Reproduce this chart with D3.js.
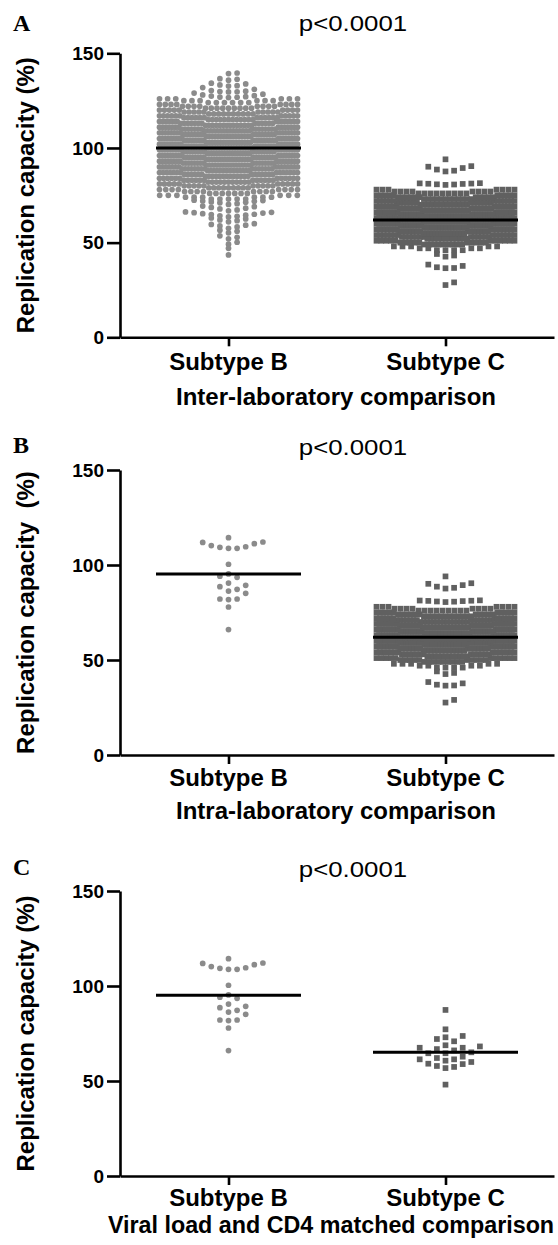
<!DOCTYPE html>
<html><head><meta charset="utf-8">
<script src="https://cdn.jsdelivr.net/npm/d3@7"></script>
<style>body{margin:0;background:#fff}svg{display:block}</style>
</head><body><svg id="c" width="558" height="1245"></svg>
<script>
// ---------------- DATA ----------------
const categories = ["Subtype B", "Subtype C"];
const yTickValues = [0, 50, 100, 150];
const panelLetters = ["A", "B", "C"];
const pValueLabels = ["p<0.0001", "p<0.0001", "p<0.0001"];
const xAxisTitles = ["Inter-laboratory comparison", "Intra-laboratory comparison", "Viral load and CD4 matched comparison"];
const yAxisTitles = ["Replication capacity (%)", "Replication capacity  (%)", "Replication capacity (%)"];

// Panel A, Subtype B (inter-laboratory): sparse tails + dense histogram (level, count)
const interB_upperTail = [139.3, 139.6, 135.8, 136.3, 136.6, 132.7, 132.9, 133.3, 133.8, 134.2,
  129.6, 129.7, 129.8, 130.0, 130.3, 131.0, 131.9, 126.6, 126.8, 126.9, 127.1, 127.4, 127.6, 128.0, 128.4, 129.0];
const interB_levels = [73, 74, 75, 76, 77, 78, 79, 80, 81, 82, 83, 84, 85, 86, 87, 88, 89, 90, 91, 92, 93, 94, 95, 96, 97, 98, 99,
  100, 101, 102, 103, 104, 105, 106, 107, 108, 109, 110, 111, 112, 113, 114, 115, 116, 117, 118, 119, 120, 121, 122, 123,
  124, 125, 126];
const interB_counts = [5, 6, 6, 7, 8, 8, 9, 10, 10, 11, 12, 12, 13, 13, 14, 14, 15, 15, 16, 16, 16, 17, 17, 17, 17, 18, 18,
  18, 18, 17, 17, 17, 17, 16, 16, 16, 15, 15, 14, 14, 13, 13, 12, 12, 11, 10, 10, 9, 9, 8, 8,
  6, 6, 6];
const interB_lowerTail = [72.4, 72.2, 72.0, 71.8, 71.5, 71.3, 71.0, 70.6, 70.2, 69.3, 69.0, 68.6, 68.2, 67.8, 67.3, 66.8,
  66.2, 66.0, 65.8, 65.6, 65.3, 65.0, 64.8, 64.5, 64.2, 63.9, 63.6, 63.0, 62.5, 62.0, 61.6, 61.0, 60.0, 59.6, 59.2,
  58.8, 58.3, 57.6, 56.6, 56.0, 55.2, 53.6, 52.8, 52.0, 50.2, 49.2, 47.0, 43.5];

// Panels A and B, Subtype C: sparse tails + dense histogram
const subC_upperTail = [94.0, 90.4, 90.1, 89.4, 88.6, 88.0, 87.6,
  80.5, 80.7, 80.8, 81.0, 81.1, 81.2, 81.3, 81.4];
const subC_levels = [46, 47, 48, 49, 50, 51, 52, 53, 54, 55, 56, 57, 58, 59, 60, 61, 62, 63, 64, 65, 66, 67, 68, 69, 70,
  71, 72, 73, 74, 75, 76, 77, 78];
const subC_counts = [4, 4, 5, 9, 10, 11, 12, 13, 14, 15, 16, 17, 17, 18, 18, 18, 18, 18, 18, 18, 17, 17, 16, 16, 15,
  14, 13, 12, 11, 10, 9, 8, 7];
const subC_lowerTail = [44.0, 43.2, 42.6, 38.4, 37.7, 37.0, 36.6, 36.5, 29.0, 27.6];

// Panels B and C, Subtype B (intra-laboratory)
const intraB = [114.4, 112.1, 111.9, 111.2, 110.2, 109.6, 109.3, 108.8, 108.8, 100.4, 95.3, 94.1, 93.5,
  90.5, 89.3, 88.6, 87.2, 86.3, 85.1, 82.1, 82.1, 81.8, 77.9, 66.0];
// Panel C, Subtype C (viral load and CD4 matched)
const matchedC = [87.4, 77.2, 73.7, 73.0, 72.1, 70.9, 68.8, 68.2, 67.5, 67.5, 66.8, 66.1, 65.1, 64.6, 64.6,
  62.8, 62.1, 61.4, 61.4, 60.7, 60.0, 59.1, 58.9, 57.9, 57.4, 56.8, 48.1];

// Group means (horizontal lines)
const meansA = [100.0, 62.0];
const meansB = [95.3, 62.0];
const meansC = [95.1, 65.1];

// ---------------- BUILD ----------------
function expand(levels, counts) {
  const out = [];
  levels.forEach((v, i) => { for (let k = 0; k < counts[i]; k++) out.push(v); });
  return out;
}
const interB = interB_upperTail.concat(expand(interB_levels, interB_counts), interB_lowerTail);
const subC = subC_upperTail.concat(expand(subC_levels, subC_counts), subC_lowerTail);

const slotOf = j => j === 0 ? 0 : (j % 2 === 1 ? (j + 1) / 2 : -j / 2);

// Prism-like row layout with compression for dense columns
function rowLayout(values, o) {
  const bins = d3.group(values, v => Math.floor((v - o.offset) / o.h));
  const out = [];
  for (const [, arr] of bins) {
    const s = arr.slice().sort(d3.ascending);
    const n = s.length;
    const slots = s.map((v, j) => slotOf(j));
    const maxP = d3.max(slots), minP = d3.min(slots);
    let sp = o.spacing, shift = 0;
    if (maxP * sp > o.maxHalf || -minP * sp > o.maxHalf) {
      sp = 2 * o.maxHalf / (n - 1);
      shift = (maxP + minP) / 2;
    }
    s.forEach((v, j) => out.push({ v, dx: (slots[j] - shift) * sp }));
  }
  return out;
}
// slot beeswarm for sparse columns
function swarmLayout(values, o) {
  const s = values.slice().sort(d3.ascending);
  const placed = new Map();
  return s.map(v => {
    for (let j = 0; ; j++) {
      const p = slotOf(j);
      const col = placed.get(p) || [];
      if (col.every(u => Math.abs(u - v) >= o.D)) {
        col.push(v); placed.set(p, col);
        return { v, dx: p * o.spacing };
      }
    }
  });
}

const rowOpts = { h: 3.0, offset: 0.5, spacing: 8.6, maxHalf: 69 };
const swarmOpts = { D: 3.8, spacing: 8.6 };

const panels = [
  { top: 53.3, bottom: 337.3, letterY: 30.5, pY: 31, catY: 369.5, titleY: 405, titleX: 336, titleSize: 24,
    groups: [{ pts: rowLayout(interB, rowOpts), shape: "circle" }, { pts: rowLayout(subC, rowOpts), shape: "square" }], means: meansA },
  { top: 470, bottom: 755, letterY: 453, pY: 455, catY: 786, titleY: 819, titleX: 336, titleSize: 24,
    groups: [{ pts: swarmLayout(intraB, swarmOpts), shape: "circle" }, { pts: rowLayout(subC, rowOpts), shape: "square" }], means: meansB },
  { top: 891, bottom: 1176, letterY: 875, pY: 877, catY: 1205.5, titleY: 1233, titleX: 331, titleSize: 23.3,
    groups: [{ pts: swarmLayout(intraB, swarmOpts), shape: "circle" }, { pts: swarmLayout(matchedC, swarmOpts), shape: "square" }], means: meansC }
];

const svg = d3.select("#c");
const FONT = "'Liberation Sans', Arial, Helvetica, sans-serif";
const x = d3.scalePoint().domain(categories).range([120, 554]).padding(0.5);
const halfLine = 72.5;
const circleR = 2.85, sq = 5.7;
const colB = "#8b8b8b", colC = "#606060";

panels.forEach((P, pi) => {
  const y = d3.scaleLinear().domain([0, 150]).range([P.bottom, P.top]);
  const g = svg.append("g");

  // points
  P.groups.forEach((G, gi) => {
    const cx = x(categories[gi]);
    if (G.shape === "circle") {
      g.append("g").selectAll("circle").data(G.pts).join("circle")
        .attr("cx", d => cx + d.dx).attr("cy", d => y(d.v)).attr("r", circleR).attr("fill", colB);
    } else {
      g.append("g").selectAll("rect").data(G.pts).join("rect")
        .attr("x", d => cx + d.dx - sq / 2).attr("y", d => y(d.v) - sq / 2)
        .attr("width", sq).attr("height", sq).attr("fill", colC);
    }
  });

  // mean lines
  g.append("g").selectAll("line").data(P.means).join("line")
    .attr("x1", (d, i) => x(categories[i]) - halfLine).attr("x2", (d, i) => x(categories[i]) + halfLine)
    .attr("y1", d => y(d)).attr("y2", d => y(d))
    .attr("stroke", "#000").attr("stroke-width", 3);

  // y axis
  const ya = g.append("g").attr("transform", "translate(120,0)")
    .call(d3.axisLeft(y).tickValues(yTickValues).tickSize(13).tickPadding(3).tickSizeOuter(0));
  ya.select(".domain").attr("stroke", "#000").attr("stroke-width", 2.6);
  ya.selectAll(".tick line").attr("stroke", "#000").attr("stroke-width", 2.6);
  ya.selectAll(".tick text").attr("font-family", FONT).attr("font-weight", "bold")
    .attr("font-size", 19).attr("fill", "#000");

  // x axis
  const xa = g.append("g").attr("transform", `translate(0,${P.bottom})`)
    .call(d3.axisBottom(x).tickSize(9).tickSizeOuter(0).tickFormat(""));
  xa.select(".domain").attr("stroke", "#000").attr("stroke-width", 2.6);
  xa.selectAll(".tick line").attr("stroke", "#000").attr("stroke-width", 2.6);

  // category labels
  g.append("g").selectAll("text").data(categories).join("text")
    .attr("x", d => x(d)).attr("y", P.catY).attr("text-anchor", "middle")
    .attr("font-family", FONT).attr("font-weight", "bold").attr("font-size", 24).attr("fill", "#000")
    .text(d => d);

  // x title
  g.append("text").attr("x", P.titleX).attr("y", P.titleY).attr("text-anchor", "middle")
    .attr("font-family", FONT).attr("font-weight", "bold").attr("font-size", P.titleSize).attr("fill", "#000")
    .text(xAxisTitles[pi]);

  // y title
  g.append("text").attr("transform", `translate(33.5,${(P.top + P.bottom) / 2}) rotate(-90)`)
    .attr("text-anchor", "middle").style("white-space", "pre")
    .attr("font-family", FONT).attr("font-weight", "bold").attr("font-size", 24).attr("fill", "#000")
    .text(yAxisTitles[pi]);

  // panel letter
  g.append("text").attr("x", 13).attr("y", P.letterY)
    .attr("font-family", "'Liberation Serif', 'Times New Roman', serif").attr("font-weight", "bold")
    .attr("font-size", 24).attr("fill", "#000").text(panelLetters[pi]);

  // p value
  g.append("g").attr("transform", `translate(353,${P.pY}) scale(1.2,1)`)
    .append("text").attr("text-anchor", "middle")
    .attr("font-family", FONT).attr("font-size", 21.5).attr("fill", "#000").text(pValueLabels[pi]);
});
</script></body></html>
